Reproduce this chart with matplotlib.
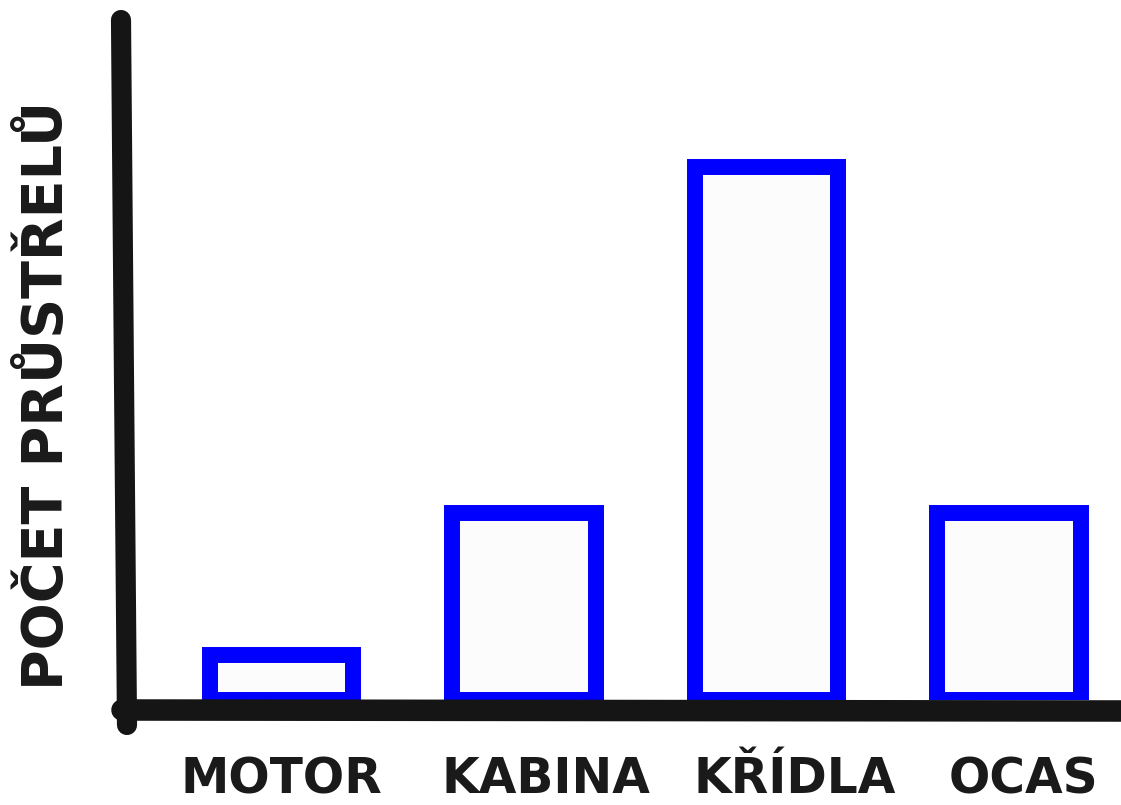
import matplotlib
matplotlib.use("Agg")
import matplotlib.pyplot as plt
from matplotlib.lines import Line2D
from matplotlib.transforms import ScaledTranslation

categories = ["MOTOR", "KABINA", "KŘÍDLA", "OCAS"]
values = [5, 21, 60, 21]
y_label = "POČET PRŮSTŘELŮ"

W, H = 1121, 805
fig = plt.figure(figsize=(W / 100, H / 100), dpi=100)
fig.patch.set_facecolor("white")

def fx(px):
    return px / W

def fy(py):
    return (H - py) / H

ax = fig.add_axes([fx(122), fy(699.5), fx(1121) - fx(122), fy(10) - fy(699.5)])
ax.set_facecolor("none")

x = list(range(len(categories)))
ax.bar(x, values, width=0.59, facecolor="#fcfcfd", edgecolor="#0000ff",
       linewidth=11.5, zorder=3)
ax.set_xlim(-0.658, 3.462)
ax.set_ylim(0, 77.7)

for s in ax.spines.values():
    s.set_visible(False)
ax.set_yticks([])
ax.set_xticks(x)
ax.set_xticklabels(categories, fontsize=35, fontweight="bold", color="#1a1a1a",
                   family=["DejaVu Sans"])
ax.tick_params(axis="x", length=0, pad=40)

# hand-lettered labels sit slightly right of bar centres
label_shift_px = [0, 22, 28, 14]
for lab, dx in zip(ax.get_xticklabels(), label_shift_px):
    lab.set_transform(lab.get_transform() + ScaledTranslation(dx / 100, 0, fig.dpi_scale_trans))

# hand-drawn style axis lines
black = "#151515"
fig.add_artist(Line2D([fx(121), fx(124), fx(127)], [fy(20), fy(380), fy(725)],
                      color=black, linewidth=14.5, solid_capstyle="round",
                      transform=fig.transFigure, zorder=1))
fig.add_artist(Line2D([fx(122), fx(600), fx(1125)], [fy(710), fy(710.5), fy(711)],
                      color=black, linewidth=15.5, solid_capstyle="round",
                      transform=fig.transFigure, zorder=1))

fig.text(fx(47), fy(395), y_label, rotation=90, ha="center", va="center",
         fontsize=40, fontweight="bold", color="#1a1a1a", family=["DejaVu Sans"])

fig.savefig("out.png", dpi=100, facecolor="white")
